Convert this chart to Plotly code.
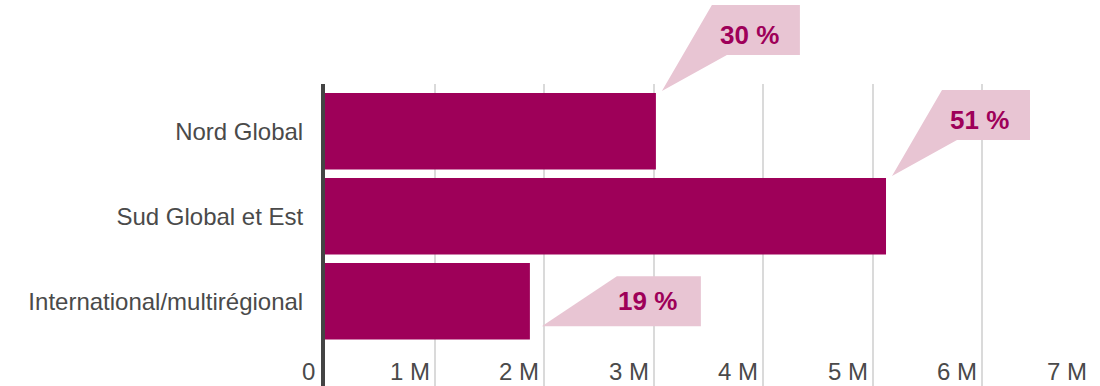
import plotly.graph_objects as go

# ---------------- data ----------------
categories = ["Nord Global", "Sud Global et Est", "International/multirégional"]
values = [3.02e6, 5.12e6, 1.87e6]
shares = [30, 51, 19]
callout_styles = ["up", "up", "side"]
tick_values = [0, 1e6, 2e6, 3e6, 4e6, 5e6, 6e6, 7e6]
tick_labels = ["0", "1 M", "2 M", "3 M", "4 M", "5 M", "6 M", "7 M"]

# ---------------- layout constants ----------------
W, H = 1100, 386
M_L, M_R, M_T, M_B = 325, 8, 84, 0
X_RANGE = [0, 7e6]
Y_RANGE = [2.998, -0.555]
plot_w = W - M_L - M_R
plot_h = H - M_T - M_B

BAR_COLOR = "#9e0059"
CALLOUT_FILL = "#e8c5d3"
TEXT_COLOR = "#4a4a4a"
GRID_COLOR = "#dadada"
FONT = "Liberation Sans, Arial, Helvetica, sans-serif"


# conversions: data -> paper, pixel offsets -> paper
def px_x(v):
    return (v - X_RANGE[0]) / (X_RANGE[1] - X_RANGE[0])


def py_y(c):
    return (Y_RANGE[0] - c) / (Y_RANGE[0] - Y_RANGE[1])


def ox(px):
    return px / plot_w


def oy(px):
    return px / plot_h


ypos = list(range(len(categories)))

fig = go.Figure(
    go.Bar(
        x=values,
        y=ypos,
        orientation="h",
        marker=dict(color=BAR_COLOR, line=dict(width=0)),
        hoverinfo="skip",
    )
)

shapes = []
annotations = []
half = 0.45
for i, (v, s, style) in enumerate(zip(values, shares, callout_styles)):
    if style == "up":
        tx = px_x(v) + ox(6)
        ty = py_y(i - half) + oy(2)
        left, right = tx + ox(50), tx + ox(138)
        top, bottom = ty + oy(86), ty + oy(36)
        notch = tx + ox(65)
        path = f"M {tx},{ty} L {left},{top} L {right},{top} L {right},{bottom} L {notch},{bottom} Z"
        text_x = right - ox(19)
        text_y = (top + bottom) / 2 - oy(5)
    else:
        tx = px_x(v) + ox(12)
        ty = py_y(i) - oy(25)
        left, right = tx + ox(75), tx + ox(159)
        top, bottom = ty + oy(50), ty
        path = f"M {tx},{ty} L {left},{top} L {right},{top} L {right},{bottom} Z"
        text_x = right - ox(22)
        text_y = (top + bottom) / 2
    shapes.append(
        dict(type="path", path=path, xref="paper", yref="paper",
             fillcolor=CALLOUT_FILL, line=dict(width=0), layer="above")
    )
    annotations.append(
        dict(x=text_x, y=text_y, xref="paper", yref="paper", text=f"<b>{s} %</b>",
             showarrow=False, xanchor="right", yanchor="middle",
             font=dict(family=FONT, size=26, color=BAR_COLOR))
    )

for tv, tl in zip(tick_values, tick_labels):
    annotations.append(
        dict(x=tv, y=(H - 371) / plot_h, xref="x", yref="paper", text=tl,
             showarrow=False, xanchor="right", yanchor="middle",
             xshift=-3 if tv else -8,
             font=dict(family=FONT, size=24, color=TEXT_COLOR))
    )

fig.update_layout(
    width=W,
    height=H,
    margin=dict(l=M_L, r=M_R, t=M_T, b=M_B, pad=0),
    paper_bgcolor="white",
    plot_bgcolor="white",
    showlegend=False,
    bargap=0.1,
    shapes=shapes,
    annotations=annotations,
    font=dict(family=FONT, size=24, color=TEXT_COLOR),
    xaxis=dict(
        range=X_RANGE,
        tickvals=tick_values,
        showticklabels=False,
        showgrid=True,
        gridcolor=GRID_COLOR,
        gridwidth=2,
        zeroline=False,
        showline=False,
        ticks="",
        fixedrange=True,
    ),
    yaxis=dict(
        range=Y_RANGE,
        tickvals=ypos,
        ticktext=categories,
        showgrid=False,
        zeroline=False,
        showline=True,
        linecolor="#444444",
        linewidth=4,
        ticks="",
        ticklabelstandoff=13,
        tickfont=dict(family=FONT, size=24, color=TEXT_COLOR),
        fixedrange=True,
    ),
)

fig.write_html(
    "out.html",
    config={"displayModeBar": False},
    post_script="document.body.style.margin='0';document.body.style.overflow='hidden';",
)
